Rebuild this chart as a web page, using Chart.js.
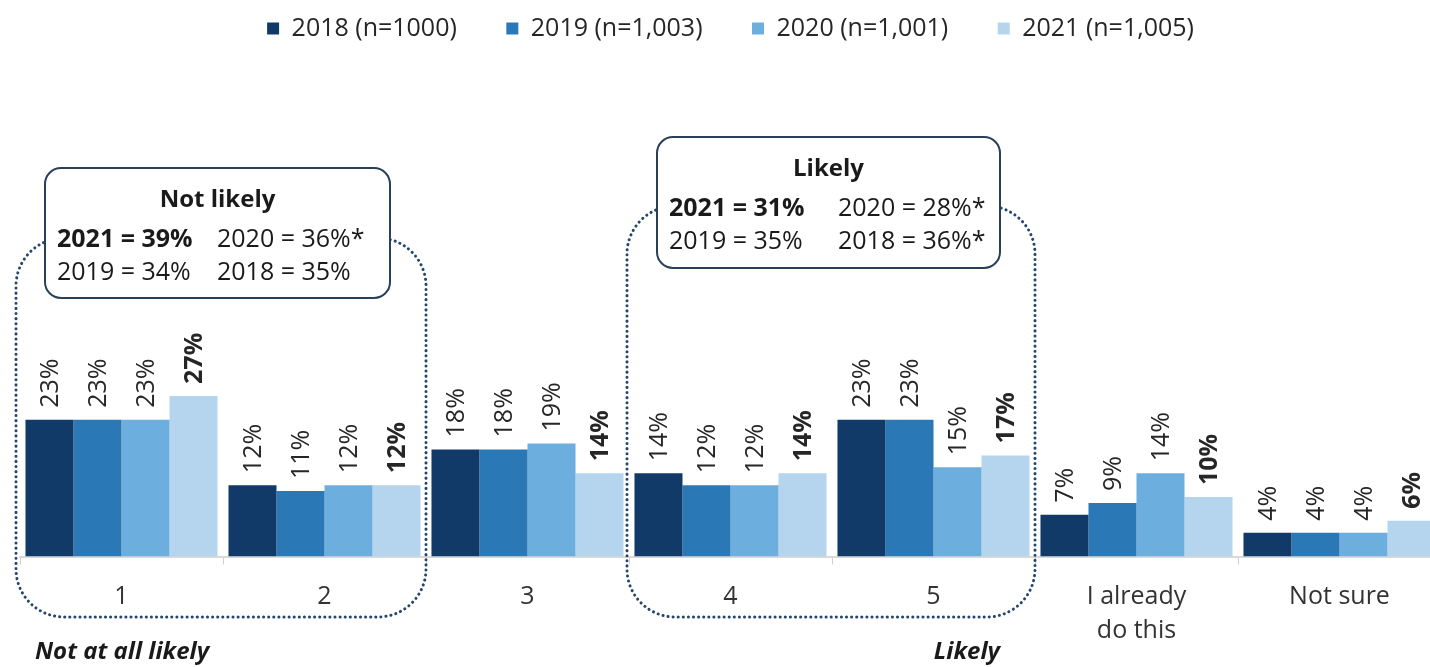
<!DOCTYPE html>
<html>
<head>
<meta charset="utf-8">
<title>Likelihood chart</title>
<script src="https://cdn.jsdelivr.net/npm/chart.js@4.4.1/dist/chart.umd.min.js"></script>
<style>
  html, body { margin: 0; padding: 0; background: #fff; overflow: hidden; }
  .wrap { position: relative; width: 1441px; height: 667px; }
</style>
</head>
<body>
<div class="wrap"><canvas id="likelyChart"></canvas></div>
<script>
// categories and values
const categories = ['1', '2', '3', '4', '5', ['I already', 'do this'], 'Not sure'];
const seriesLabels = ['2018 (n=1000)', '2019 (n=1,003)', '2020 (n=1,001)', '2021 (n=1,005)'];
const values2018 = [23, 12, 18, 14, 23, 7, 4];
const values2019 = [23, 11, 18, 12, 23, 9, 4];
const values2020 = [23, 12, 19, 12, 15, 14, 4];
const values2021 = [27, 12, 14, 14, 17, 10, 6];
const colors = ['#113a68', '#2a78b5', '#6caede', '#b5d4ee'];

const FONT = '"Open Sans", Lato, sans-serif';

// draws rotated % labels above every bar
const barLabels = {
  id: 'barLabels',
  afterDatasetsDraw(chart) {
    const ctx = chart.ctx;
    chart.data.datasets.forEach((ds, i) => {
      const meta = chart.getDatasetMeta(i);
      meta.data.forEach((bar, j) => {
        ctx.save();
        ctx.translate(bar.x, bar.y - 12);
        ctx.rotate(-Math.PI / 2);
        ctx.font = (i === 3 ? 'bold ' : '') + '25px ' + FONT;
        ctx.fillStyle = '#262626';
        ctx.textAlign = 'left';
        ctx.textBaseline = 'middle';
        ctx.fillText(ds.data[j] + '%', 0, 1);
        ctx.restore();
      });
    });
  }
};

function roundRect(ctx, x, y, w, h, r) {
  ctx.beginPath();
  ctx.moveTo(x + r, y);
  ctx.lineTo(x + w - r, y);
  ctx.arcTo(x + w, y, x + w, y + r, r);
  ctx.lineTo(x + w, y + h - r);
  ctx.arcTo(x + w, y + h, x + w - r, y + h, r);
  ctx.lineTo(x + r, y + h);
  ctx.arcTo(x, y + h, x, y + h - r, r);
  ctx.lineTo(x, y + r);
  ctx.arcTo(x, y, x + r, y, r);
  ctx.closePath();
}

// summary boxes with the dotted brackets around categories
function drawSummary(ctx, s) {
  // dotted bracket
  ctx.save();
  ctx.strokeStyle = '#24466e';
  ctx.lineWidth = 3;
  ctx.setLineDash([0.1, 5]);
  ctx.lineCap = 'round';
  roundRect(ctx, s.dx0, s.dy0, s.dx1 - s.dx0, s.dy1 - s.dy0, 48);
  ctx.stroke();
  ctx.restore();

  // box
  ctx.save();
  roundRect(ctx, s.bx, s.by, s.bw, s.bh, 16);
  ctx.fillStyle = '#fff';
  ctx.fill();
  ctx.strokeStyle = '#2a3f5a';
  ctx.lineWidth = 2;
  ctx.stroke();
  ctx.fillStyle = '#1a1a1a';
  ctx.textBaseline = 'middle';
  ctx.textAlign = 'center';
  ctx.font = 'bold 24px ' + FONT;
  ctx.fillText(s.title, s.bx + s.bw / 2, s.by + 32);
  ctx.textAlign = 'left';
  ctx.font = 'bold 25px ' + FONT;
  ctx.fillText(s.l1a, s.bx + 12, s.by + 72);
  ctx.font = '25px ' + FONT;
  ctx.fillText(s.l1b, s.bx + s.col2, s.by + 72);
  ctx.fillText(s.l2a, s.bx + 12, s.by + 105);
  ctx.fillText(s.l2b, s.bx + s.col2, s.by + 105);
  ctx.restore();
}

const annotations = {
  id: 'annotations',
  afterDraw(chart) {
    const ctx = chart.ctx;
    const x = chart.scales.x;
    const half = (x.getPixelForValue(1) - x.getPixelForValue(0)) / 2;
    const edge = i => x.getPixelForValue(i) - half;

    drawSummary(ctx, {
      dx0: edge(0) - 4, dx1: edge(2), dy0: 238, dy1: 617,
      bx: 45, by: 168, bw: 345, bh: 130, col2: 172,
      title: 'Not likely', l1a: '2021 = 39%', l1b: '2020 = 36%*', l2a: '2019 = 34%', l2b: '2018 = 35%'
    });
    drawSummary(ctx, {
      dx0: edge(3) - 2, dx1: edge(5), dy0: 206, dy1: 617,
      bx: 657, by: 137, bw: 343, bh: 131, col2: 181,
      title: 'Likely', l1a: '2021 = 31%', l1b: '2020 = 28%*', l2a: '2019 = 35%', l2b: '2018 = 36%*'
    });

    ctx.save();
    ctx.fillStyle = '#1a1a1a';
    ctx.font = 'italic bold 24px ' + FONT;
    ctx.textBaseline = 'middle';
    ctx.textAlign = 'left';
    ctx.fillText('Not at all likely', 35, 652);
    ctx.textAlign = 'right';
    ctx.fillText('Likely', 1000, 652);
    ctx.restore();
  }
};

const ctx = document.getElementById('likelyChart').getContext('2d');

const likelyChart = new Chart(ctx, {
  type: 'bar',
  data: {
    labels: categories,
    datasets: [
      { label: seriesLabels[0], data: values2018, backgroundColor: colors[0] },
      { label: seriesLabels[1], data: values2019, backgroundColor: colors[1] },
      { label: seriesLabels[2], data: values2020, backgroundColor: colors[2] },
      { label: seriesLabels[3], data: values2021, backgroundColor: colors[3] },
    ],
  },
  options: {
    responsive: true,
    maintainAspectRatio: false,
    animation: false,
    layout: { padding: { left: 20, right: 0, top: 4, bottom: 4 } },
    datasets: { bar: { categoryPercentage: 0.946, barPercentage: 1 } },
    plugins: {
      tooltip: { enabled: false },
      legend: {
        position: 'top',
        labels: {
          font: { family: FONT, size: 25 },
          color: '#262626',
          boxWidth: 12,
          boxHeight: 12,
          padding: 12,
          // extra gap between legend entries
          generateLabels(chart) {
            const items = Chart.defaults.plugins.legend.labels.generateLabels(chart);
            items.forEach((it, i) => {
              it.lineWidth = 0;
              if (i < items.length - 1) it.text += '\u2002\u2002\u2002';
            });
            return items;
          }
        }
      }
    },
    scales: {
      x: {
        grid: { offset: true, drawOnChartArea: false, drawTicks: true, tickLength: 8, color: '#d8cfc0' },
        border: { color: '#d9d9d9', width: 2 },
        ticks: {
          color: '#333',
          padding: 16,
          maxRotation: 0,
          font: { family: FONT, size: 25, lineHeight: 1.33 }
        }
      },
      y: {
        display: false,
        min: 0,
        max: 85
      }
    }
  },
  plugins: [barLabels, annotations]
});
</script>
</body>
</html>
